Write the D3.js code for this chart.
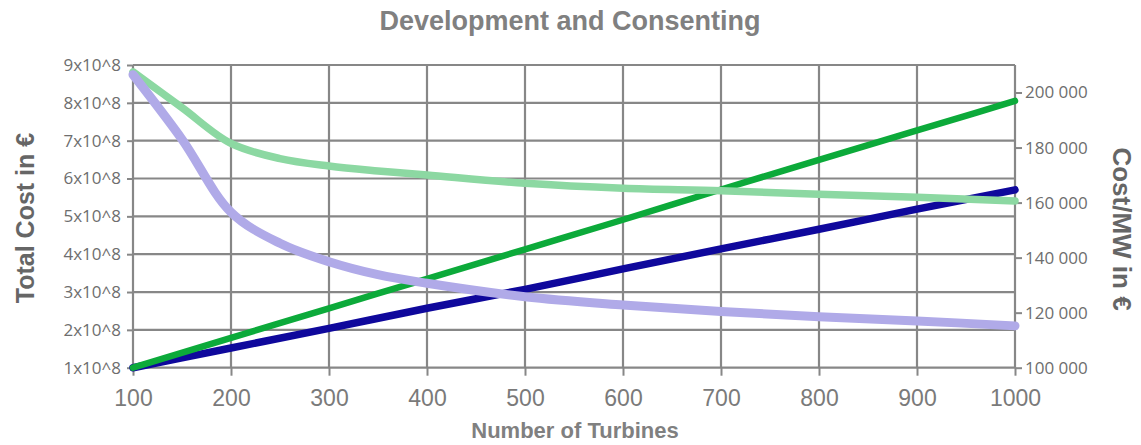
<!DOCTYPE html>
<html>
<head>
<meta charset="utf-8">
<script src="https://cdn.jsdelivr.net/npm/d3@7"></script>
<style>
  html, body { margin: 0; padding: 0; background: #fff; }
  svg { display: block; }
</style>
</head>
<body>
<svg id="chart" width="1141" height="445"></svg>
<script>
// Number of turbines in the wind farm
const turbineCounts = [100, 200, 300, 400, 500, 600, 700, 800, 900, 1000];
// Total development & consenting cost (EUR), two scenarios
const totalCostHigh = [1.0e8, 1.79e8, 2.57e8, 3.35e8, 4.13e8, 4.91e8, 5.71e8, 6.49e8, 7.27e8, 8.05e8];
const totalCostLow  = [1.0e8, 1.52e8, 2.04e8, 2.57e8, 3.07e8, 3.61e8, 4.14e8, 4.66e8, 5.19e8, 5.70e8];

// Cost per MW (EUR/MW), sampled more densely where the curves bend
const curveTurbines = [100, 150, 200, 250, 300, 350, 400, 500, 600, 700, 800, 900, 1000];
const costPerMWHigh = [207500, 194500, 181500, 176000, 173300, 171500, 170000, 167000, 165200, 164300, 163000, 161900, 160600];
const costPerMWLow  = [206500, 183000, 156500, 145200, 138500, 133800, 130700, 125800, 122800, 120400, 118500, 117000, 115200];

// Axis ticks
const leftTicks = [1e8, 2e8, 3e8, 4e8, 5e8, 6e8, 7e8, 8e8, 9e8];
const rightTicks = [100000, 120000, 140000, 160000, 180000, 200000];
const xTicks = [100, 200, 300, 400, 500, 600, 700, 800, 900, 1000];

const svg = d3.select("#chart");
const plot = { left: 133, right: 1015, top: 65, bottom: 367.7 };

const x = d3.scaleLinear().domain([100, 1000]).range([plot.left, plot.right]);
const yLeft = d3.scaleLinear().domain([1e8, 9e8]).range([plot.bottom, plot.top]);
const yRight = d3.scaleLinear().domain([100000, 210000]).range([plot.bottom, plot.top]);

const gridColor = "#878787";
const labelColor = "#6e6e6e";

// Grid
const grid = svg.append("g");
grid.selectAll("line.v").data(xTicks).join("line")
  .attr("x1", d => x(d)).attr("x2", d => x(d))
  .attr("y1", plot.top).attr("y2", plot.bottom)
  .attr("stroke", gridColor).attr("stroke-width", 2.2);
grid.selectAll("line.h").data(leftTicks).join("line")
  .attr("x1", plot.left).attr("x2", plot.right)
  .attr("y1", d => yLeft(d)).attr("y2", d => yLeft(d))
  .attr("stroke", gridColor).attr("stroke-width", 2.2);

// Left axis
const leftAxis = d3.axisLeft(yLeft).tickValues(leftTicks).tickSize(6).tickPadding(6)
  .tickFormat(d => `${Math.round(d / 1e8)}x10^8`);
const gL = svg.append("g").attr("transform", `translate(${plot.left},0)`).call(leftAxis);
gL.select(".domain").remove();
gL.selectAll(".tick line").attr("stroke", gridColor).attr("stroke-width", 2);
gL.selectAll(".tick text").attr("fill", labelColor)
  .attr("font-family", "'Open Sans', sans-serif").attr("font-size", 17);

// Right axis
const rightAxis = d3.axisRight(yRight).tickValues(rightTicks).tickSize(7).tickPadding(3)
  .tickFormat(d => d3.format(",")(d).replace(/,/g, " "));
const gR = svg.append("g").attr("transform", `translate(${plot.right},0)`).call(rightAxis);
gR.select(".domain").remove();
gR.selectAll(".tick line").attr("stroke", gridColor).attr("stroke-width", 2);
gR.selectAll(".tick text").attr("fill", labelColor)
  .attr("font-family", "'Open Sans', sans-serif").attr("font-size", 17);

// Bottom axis
const bottomAxis = d3.axisBottom(x).tickValues(xTicks).tickSize(8).tickPadding(6)
  .tickFormat(d3.format("d"));
const gB = svg.append("g").attr("transform", `translate(0,${plot.bottom})`).call(bottomAxis);
gB.select(".domain").remove();
gB.selectAll(".tick line").attr("stroke", gridColor).attr("stroke-width", 2);
gB.selectAll(".tick text").attr("fill", "#7a7a7a")
  .attr("font-family", "'Liberation Sans', Arial, sans-serif").attr("font-size", 23)
  .attr("dy", null).attr("y", 38);

// Series
const lineLeft = (xs) => d3.line().x((d, i) => x(xs[i])).y(d => yLeft(d)).curve(d3.curveMonotoneX);
const lineRight = (xs) => d3.line().x((d, i) => x(xs[i])).y(d => yRight(d)).curve(d3.curveCatmullRom.alpha(0.5));

const series = [
  { values: totalCostLow,  path: lineLeft(turbineCounts),  color: "#0f089c", width: 7.5 },
  { values: totalCostHigh, path: lineLeft(turbineCounts),  color: "#0caa3a", width: 6.5 },
  { values: costPerMWHigh, path: lineRight(curveTurbines), color: "#8cd8a2", width: 7.5 },
  { values: costPerMWLow,  path: lineRight(curveTurbines), color: "#b0aae8", width: 9 }
];
svg.append("g").selectAll("path").data(series).join("path")
  .attr("d", s => s.path(s.values))
  .attr("fill", "none")
  .attr("stroke", s => s.color)
  .attr("stroke-width", s => s.width)
  .attr("stroke-linecap", "round")
  .attr("stroke-linejoin", "round");

// Titles
const bold = "'Liberation Sans', Arial, sans-serif";
svg.append("text").attr("x", 570).attr("y", 30).attr("text-anchor", "middle")
  .attr("font-family", bold).attr("font-weight", "bold").attr("font-size", 27)
  .attr("fill", "#808080").text("Development and Consenting");
svg.append("text").attr("x", 575).attr("y", 438).attr("text-anchor", "middle")
  .attr("font-family", bold).attr("font-weight", "bold").attr("font-size", 22)
  .attr("fill", "#808080").text("Number of Turbines");
svg.append("text").attr("transform", "translate(34,218) rotate(-90)").attr("text-anchor", "middle")
  .attr("font-family", bold).attr("font-weight", "bold").attr("font-size", 25)
  .attr("fill", "#666666").text("Total Cost in €");
svg.append("text").attr("transform", "translate(1113,229) rotate(90)").attr("text-anchor", "middle")
  .attr("font-family", bold).attr("font-weight", "bold").attr("font-size", 26)
  .attr("fill", "#666666").text("Cost/MW in €");
</script>
</body>
</html>
